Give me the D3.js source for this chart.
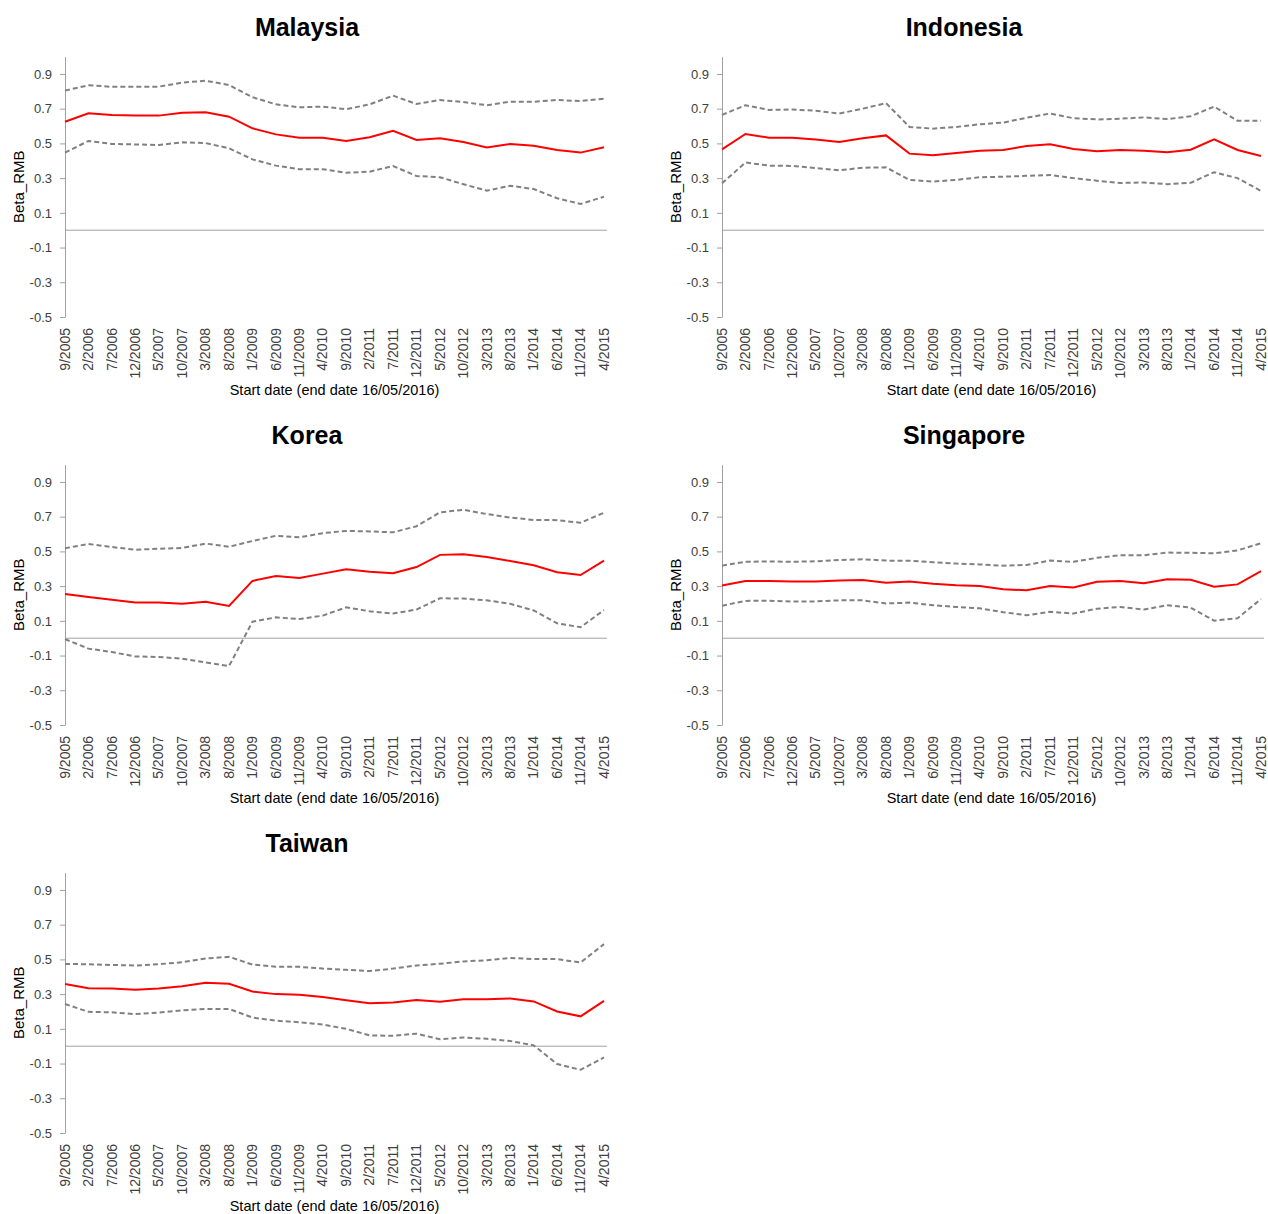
<!DOCTYPE html>
<html>
<head>
<meta charset="utf-8">
<script src="https://cdn.jsdelivr.net/npm/d3@7"></script>
<style>
  body { margin: 0; background: #fff; }
  text { font-family: "Liberation Sans", Arial, sans-serif; }
</style>
</head>
<body>
<div id="chart"></div>
<script>
// Start dates of the rolling windows (x categories)
const startDates = ["9/2005", "2/2006", "7/2006", "12/2006", "5/2007", "10/2007", "3/2008", "8/2008",
  "1/2009", "6/2009", "11/2009", "4/2010", "9/2010", "2/2011", "7/2011", "12/2011", "5/2012",
  "10/2012", "3/2013", "8/2013", "1/2014", "6/2014", "11/2014", "4/2015"];
const yTicks = [0.9, 0.7, 0.5, 0.3, 0.1, -0.1, -0.3, -0.5];

// Beta_RMB estimates with upper / lower bands
const malaysiaBeta = [0.625, 0.673, 0.664, 0.660, 0.660, 0.677, 0.679, 0.654, 0.587, 0.552, 0.533, 0.533,
  0.514, 0.535, 0.572, 0.520, 0.529, 0.508, 0.477, 0.497, 0.487, 0.462, 0.447, 0.478];
const malaysiaUpper = [0.804, 0.835, 0.826, 0.827, 0.827, 0.850, 0.861, 0.836, 0.766, 0.725, 0.708, 0.712,
  0.697, 0.725, 0.775, 0.727, 0.750, 0.738, 0.720, 0.740, 0.740, 0.750, 0.744, 0.758];
const malaysiaLower = [0.447, 0.514, 0.497, 0.494, 0.491, 0.506, 0.502, 0.472, 0.408, 0.372, 0.351, 0.351,
  0.331, 0.337, 0.370, 0.312, 0.305, 0.265, 0.228, 0.256, 0.237, 0.184, 0.151, 0.193];

const indonesiaBeta = [0.466, 0.554, 0.533, 0.532, 0.522, 0.508, 0.530, 0.546, 0.441, 0.432, 0.445, 0.458,
  0.462, 0.485, 0.495, 0.468, 0.455, 0.462, 0.458, 0.449, 0.464, 0.524, 0.462, 0.427];
const indonesiaUpper = [0.664, 0.720, 0.693, 0.695, 0.688, 0.672, 0.700, 0.732, 0.595, 0.585, 0.595, 0.610,
  0.620, 0.648, 0.672, 0.645, 0.638, 0.642, 0.650, 0.640, 0.656, 0.712, 0.630, 0.630];
const indonesiaLower = [0.270, 0.390, 0.372, 0.370, 0.358, 0.345, 0.360, 0.362, 0.290, 0.280, 0.290, 0.305,
  0.308, 0.313, 0.318, 0.300, 0.285, 0.272, 0.275, 0.265, 0.273, 0.334, 0.300, 0.226];

const koreaBeta = [0.255, 0.238, 0.221, 0.205, 0.205, 0.199, 0.210, 0.186, 0.330, 0.358, 0.347, 0.372,
  0.397, 0.383, 0.374, 0.410, 0.480, 0.483, 0.468, 0.445, 0.420, 0.380, 0.364, 0.447];
const koreaUpper = [0.518, 0.543, 0.525, 0.510, 0.515, 0.520, 0.545, 0.527, 0.560, 0.590, 0.581, 0.605,
  0.618, 0.615, 0.610, 0.645, 0.725, 0.740, 0.715, 0.695, 0.681, 0.680, 0.665, 0.723];
const koreaLower = [-0.005, -0.060, -0.080, -0.105, -0.108, -0.118, -0.140, -0.160, 0.095, 0.120, 0.110, 0.130,
  0.178, 0.155, 0.142, 0.165, 0.230, 0.228, 0.218, 0.198, 0.160, 0.086, 0.063, 0.162];

const singaporeBeta = [0.303, 0.330, 0.330, 0.326, 0.327, 0.333, 0.335, 0.320, 0.326, 0.313, 0.305, 0.300,
  0.282, 0.276, 0.300, 0.292, 0.325, 0.330, 0.316, 0.340, 0.336, 0.297, 0.310, 0.387];
const singaporeUpper = [0.418, 0.440, 0.442, 0.440, 0.443, 0.450, 0.455, 0.447, 0.446, 0.438, 0.430, 0.425,
  0.418, 0.422, 0.447, 0.440, 0.463, 0.478, 0.478, 0.493, 0.492, 0.489, 0.506, 0.547];
const singaporeLower = [0.187, 0.215, 0.216, 0.211, 0.212, 0.218, 0.218, 0.200, 0.205, 0.190, 0.180, 0.172,
  0.150, 0.132, 0.152, 0.142, 0.170, 0.180, 0.165, 0.190, 0.176, 0.101, 0.115, 0.226];

const taiwanBeta = [0.358, 0.334, 0.332, 0.325, 0.332, 0.345, 0.365, 0.360, 0.315, 0.300, 0.296, 0.283,
  0.265, 0.247, 0.252, 0.266, 0.256, 0.270, 0.270, 0.275, 0.258, 0.200, 0.172, 0.261];
const taiwanUpper = [0.474, 0.472, 0.468, 0.465, 0.472, 0.484, 0.505, 0.515, 0.470, 0.458, 0.457, 0.447,
  0.440, 0.433, 0.447, 0.465, 0.475, 0.488, 0.495, 0.508, 0.502, 0.502, 0.482, 0.588];
const taiwanLower = [0.243, 0.198, 0.195, 0.185, 0.193, 0.207, 0.215, 0.215, 0.165, 0.147, 0.138, 0.125,
  0.100, 0.062, 0.060, 0.072, 0.040, 0.050, 0.043, 0.030, 0.005, -0.103, -0.136, -0.065];

const panels = [
  {name: "Malaysia", beta: malaysiaBeta, upper: malaysiaUpper, lower: malaysiaLower},
  {name: "Indonesia", beta: indonesiaBeta, upper: indonesiaUpper, lower: indonesiaLower},
  {name: "Korea", beta: koreaBeta, upper: koreaUpper, lower: koreaLower},
  {name: "Singapore", beta: singaporeBeta, upper: singaporeUpper, lower: singaporeLower},
  {name: "Taiwan", beta: taiwanBeta, upper: taiwanUpper, lower: taiwanLower}
];

const width = 1268, height = 1214;
const colStep = 657, rowStep = 408;
const plotLeft = 65, plotRight = 604, plotTop = 56.6, plotBottom = 317;

const svg = d3.select("#chart")
    .append("svg")
    .attr("width", width)
    .attr("height", height);

panels.forEach(function(p, i) {
    const g = svg.append("g")
        .attr("transform", `translate(${(i % 2) * colStep},${Math.floor(i / 2) * rowStep})`);

    const x = d3.scalePoint()
        .domain(startDates)
        .range([plotLeft, plotRight]);
    const y = d3.scaleLinear()
        .domain([-0.5, 1.0])
        .range([plotBottom, plotTop]);

    // Y axis
    const yAxis = g.append("g")
        .attr("transform", `translate(${plotLeft},0)`)
        .call(d3.axisLeft(y).tickValues(yTicks).tickSize(5).tickSizeOuter(0).tickPadding(8)
            .tickFormat(d => d.toFixed(1)));
    yAxis.select(".domain").attr("stroke", "#a0a0a0");
    yAxis.selectAll(".tick line").attr("stroke", "#a0a0a0");
    yAxis.selectAll(".tick text")
        .style("font-size", "13px")
        .attr("fill", "#404040");

    // X labels hang below the plot, rotated
    const xAxis = g.append("g")
        .attr("transform", `translate(0,${plotBottom})`)
        .call(d3.axisBottom(x).tickSize(0));
    xAxis.select(".domain").remove();
    xAxis.selectAll(".tick text")
        .attr("transform", "rotate(-90)")
        .attr("x", -11)
        .attr("y", 0)
        .attr("dy", "0.3em")
        .style("text-anchor", "end")
        .style("font-size", "14px")
        .attr("fill", "#404040");

    // Zero line (category axis)
    g.append("line")
        .attr("x1", plotLeft)
        .attr("x2", plotRight + 3)
        .attr("y1", y(0))
        .attr("y2", y(0))
        .attr("stroke", "#a0a0a0")
        .attr("stroke-width", 1);

    const line = d3.line()
        .x((d, k) => x(startDates[k]))
        .y(d => y(d));

    // Confidence bands
    [p.upper, p.lower].forEach(function(band) {
        g.append("path")
            .datum(band)
            .attr("fill", "none")
            .attr("stroke", "#808080")
            .attr("stroke-width", 2)
            .attr("stroke-dasharray", "5,3")
            .attr("d", line);
    });

    // Beta estimate
    g.append("path")
        .datum(p.beta)
        .attr("fill", "none")
        .attr("stroke", "#ff0000")
        .attr("stroke-width", 2)
        .attr("d", line);

    // Title
    g.append("text")
        .attr("x", 307)
        .attr("y", 36)
        .attr("text-anchor", "middle")
        .style("font-size", "25px")
        .style("font-weight", "bold")
        .attr("fill", "#000")
        .text(p.name);

    // Axis titles
    g.append("text")
        .attr("x", (plotLeft + plotRight) / 2)
        .attr("y", 395)
        .attr("text-anchor", "middle")
        .style("font-size", "14.5px")
        .attr("fill", "#000")
        .text("Start date (end date 16/05/2016)");

    g.append("text")
        .attr("transform", `translate(24,${(plotTop + plotBottom) / 2}) rotate(-90)`)
        .attr("text-anchor", "middle")
        .style("font-size", "15px")
        .attr("fill", "#000")
        .text("Beta_RMB");
});
</script>
</body>
</html>
